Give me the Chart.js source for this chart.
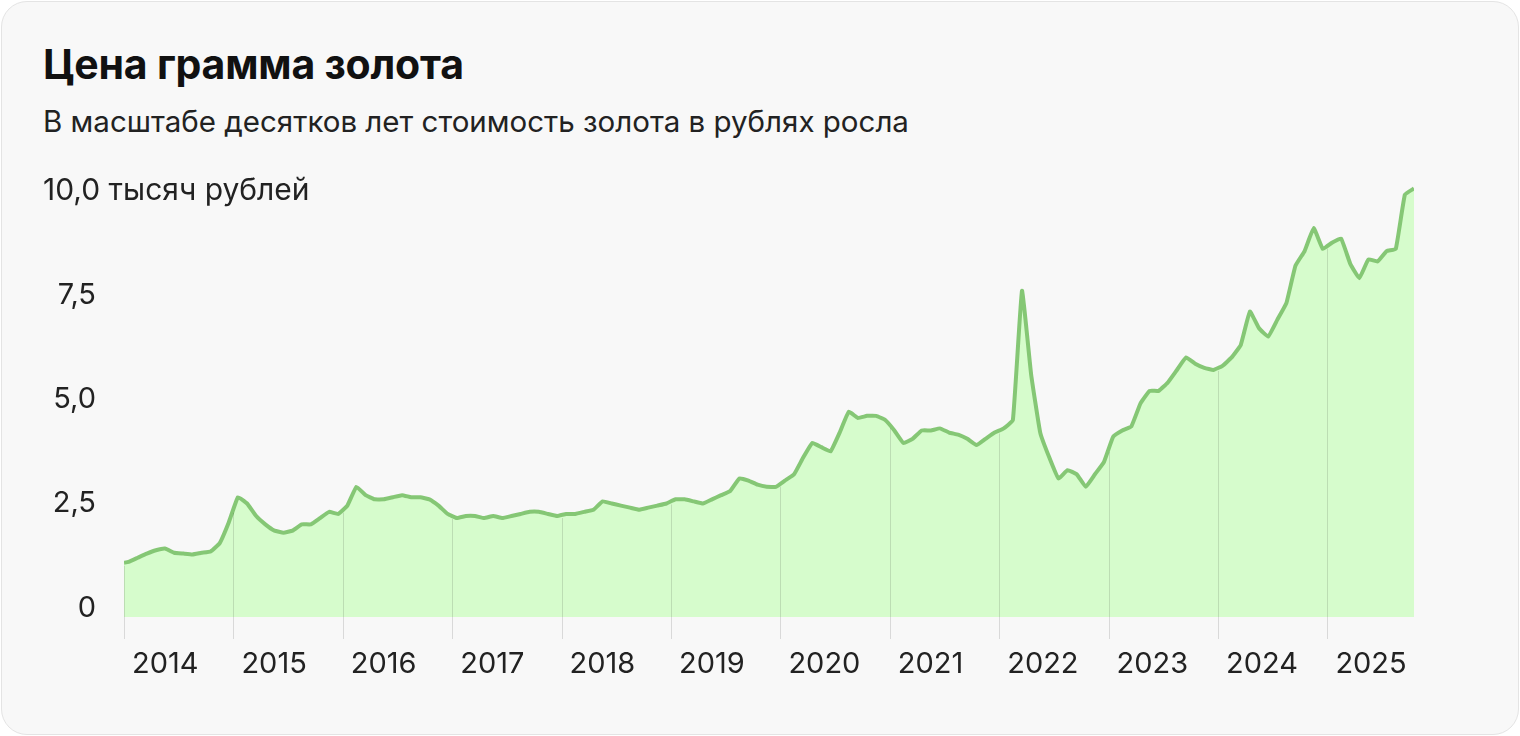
<!DOCTYPE html>
<html><head><meta charset="utf-8">
<script src="https://cdn.jsdelivr.net/npm/chart.js@4"></script>
<style>
html,body{margin:0;padding:0;background:#fff;font-family:Inter,"Noto Sans",sans-serif;}
#card{position:absolute;left:1px;top:1px;width:1516px;height:732px;border:1px solid #e4e4e4;border-radius:26px;background:#f8f8f8;overflow:hidden;}
h1{position:absolute;left:41px;top:37px;margin:0;font-size:41px;font-weight:700;color:#111;letter-spacing:-0.2px;}
#sub{position:absolute;left:41px;top:101px;font-size:29.5px;color:#222;}
canvas{position:absolute;left:0;top:0;}
</style></head><body>
<div id="card">
<h1>Цена грамма золота</h1>
<div id="sub">В масштабе десятков лет стоимость золота в рублях росла</div>
<canvas id="c" width="1516" height="732"></canvas>
</div>
<script>
const years=[2014,2015,2016,2017,2018,2019,2020,2021,2022,2023,2024,2025];
const v2014=[1.10,1.20,1.30,1.38,1.42,1.32,1.30,1.28,1.32,1.35,1.55,2.05];
const v2015=[2.65,2.50,2.20,2.00,1.85,1.80,1.85,2.00,2.00,2.15,2.30,2.25];
const v2016=[2.45,2.90,2.70,2.60,2.60,2.65,2.70,2.65,2.65,2.60,2.45,2.25];
const v2017=[2.15,2.20,2.20,2.15,2.20,2.15,2.20,2.25,2.30,2.30,2.25,2.20];
const v2018=[2.25,2.25,2.30,2.35,2.55,2.50,2.45,2.40,2.35,2.40,2.45,2.50];
const v2019=[2.60,2.60,2.55,2.50,2.60,2.70,2.80,3.10,3.05,2.95,2.90,2.90];
const v2020=[3.05,3.20,3.60,3.95,3.85,3.75,4.20,4.70,4.55,4.60,4.60,4.50];
const v2021=[4.25,3.95,4.05,4.25,4.25,4.30,4.20,4.15,4.05,3.90,4.05,4.20];
const v2022=[4.30,4.50,7.60,5.60,4.20,3.60,3.10,3.30,3.20,2.90,3.20,3.50];
const v2023=[4.10,4.25,4.35,4.90,5.20,5.20,5.40,5.70,6.00,5.85,5.75,5.70];
const v2024=[5.80,6.00,6.30,7.10,6.70,6.50,6.90,7.30,8.20,8.55,9.10,8.60];
const v2025=[8.75,8.85,8.25,7.90,8.35,8.30,8.55,8.60,9.90,10.05];
const series=[v2014,v2015,v2016,v2017,v2018,v2019,v2020,v2021,v2022,v2023,v2024,v2025];
const pts=[];
series.forEach((arr,i)=>arr.forEach((v,m)=>pts.push({x:years[i]+(m+0.5)/12,y:v})));
pts.unshift({x:2014,y:1.08});
function valAt(x){for(let i=1;i<pts.length;i++){if(pts[i].x>=x){const a=pts[i-1],b=pts[i];return a.y+(b.y-a.y)*(x-a.x)/(b.x-a.x);}}return pts[pts.length-1].y;}
const F='Inter, "Noto Sans", sans-serif';
const gridPlugin={id:'g',
beforeDatasetsDraw(ch){const {ctx,scales:{y}}=ch;ctx.save();ctx.fillStyle='#222';ctx.font='30px '+F;ctx.textBaseline='middle';ctx.textAlign='left';ctx.fillText('10,0 тысяч рублей',41,y.getPixelForValue(10));ctx.restore();},
afterDatasetsDraw(ch){const {ctx,scales:{x,y}}=ch;ctx.save();ctx.strokeStyle='rgba(0,0,0,0.12)';ctx.lineWidth=1;
years.forEach(yr=>{const px=Math.round(x.getPixelForValue(yr))+0.5;ctx.beginPath();ctx.moveTo(px,y.getPixelForValue(valAt(yr))+3);ctx.lineTo(px,ch.chartArea.bottom+22);ctx.stroke();});ctx.restore();}};
new Chart(document.getElementById('c'),{type:'line',
data:{datasets:[{data:pts,borderColor:'#85c775',borderWidth:4,backgroundColor:'#d6fccc',fill:'start',pointRadius:0,tension:0.1}]},
options:{responsive:false,animation:false,layout:{padding:{left:0,right:104,top:176,bottom:0}},
plugins:{legend:{display:false},tooltip:{enabled:false}},
scales:{
x:{type:'linear',min:2014,max:pts[pts.length-1].x,grid:{display:false},border:{display:false},
afterBuildTicks(s){s.ticks=years.map(v=>({value:v}));},afterFit(s){s.height=117;},
ticks:{align:'start',labelOffset:8,padding:22,maxRotation:0,autoSkip:false,color:'#222',font:{size:29,family:F},callback:v=>String(v)}},
y:{min:-0.22,max:10.3,grid:{display:false},border:{display:false},
afterBuildTicks(s){s.ticks=[0,2.5,5,7.5].map(v=>({value:v}));},afterFit(s){s.width=122;},
ticks:{padding:20,color:'#222',font:{size:29,family:F},callback:v=>v===0?'0':v.toFixed(1).replace('.',',')}}}},
plugins:[gridPlugin]});
</script></body></html>
